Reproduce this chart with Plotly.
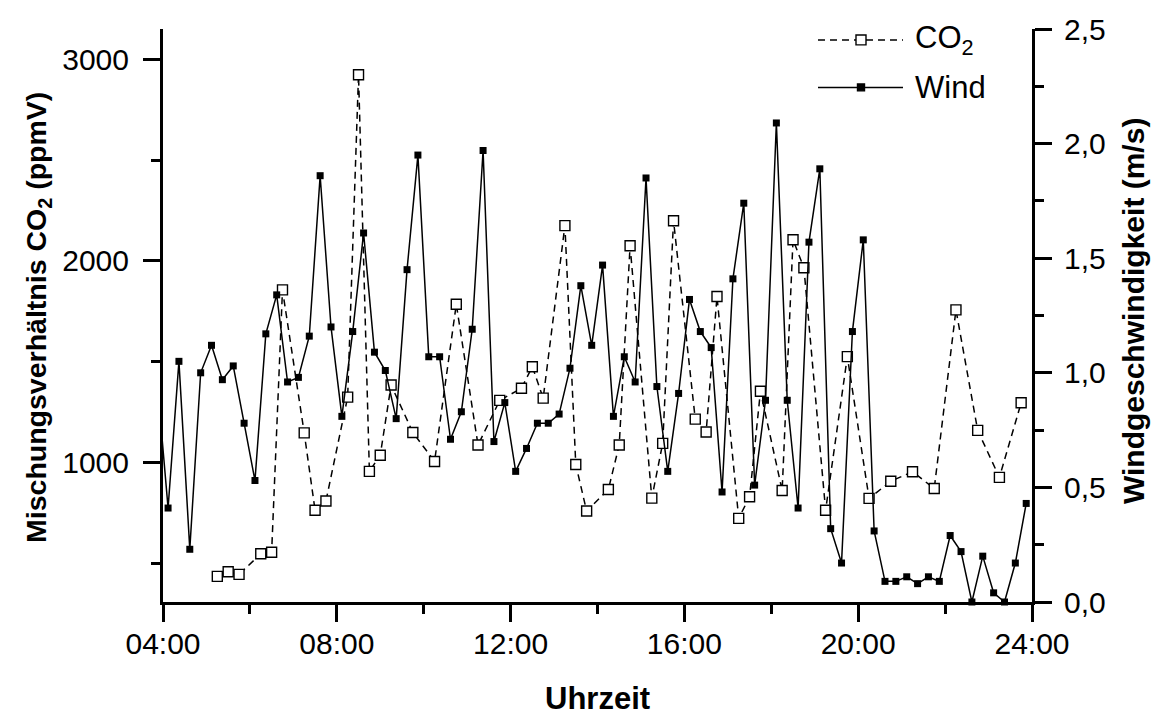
import plotly.graph_objects as go

# ---------------- data ----------------
wind_time = ["03:52",
             "04:07", "04:22", "04:37", "04:52", "05:07", "05:22", "05:37", "05:52",
             "06:07", "06:22", "06:37", "06:52", "07:07", "07:22", "07:37", "07:52",
             "08:07", "08:22", "08:37", "08:52", "09:07", "09:22", "09:37", "09:52",
             "10:07", "10:22", "10:37", "10:52", "11:07", "11:22", "11:37", "11:52",
             "12:07", "12:22", "12:37", "12:52", "13:07", "13:22", "13:37", "13:52",
             "14:07", "14:22", "14:37", "14:52", "15:07", "15:22", "15:37", "15:52",
             "16:07", "16:22", "16:37", "16:52", "17:07", "17:22", "17:37", "17:52",
             "18:07", "18:22", "18:37", "18:52", "19:07", "19:22", "19:37", "19:52",
             "20:07", "20:22", "20:37", "20:52", "21:07", "21:22", "21:37", "21:52",
             "22:07", "22:22", "22:37", "22:52", "23:07", "23:22", "23:37", "23:52"]
wind_speed = [0.96, 0.41, 1.05, 0.23, 1.00, 1.12, 0.97, 1.03, 0.78, 0.53,
              1.17, 1.34, 0.96, 0.98, 1.16, 1.86, 1.20, 0.81, 1.18, 1.61,
              1.09, 1.01, 0.80, 1.45, 1.95, 1.07, 1.07, 0.71, 0.83, 1.19,
              1.97, 0.70, 0.87, 0.57, 0.67, 0.78, 0.78, 0.82, 1.02, 1.38,
              1.12, 1.47, 0.81, 1.07, 0.96, 1.85, 0.94, 0.57, 0.91, 1.32,
              1.18, 1.11, 0.48, 1.41, 1.74, 0.51, 0.88, 2.09, 0.88, 0.41,
              1.57, 1.89, 0.32, 0.17, 1.18, 1.58, 0.31, 0.09, 0.09, 0.11,
              0.08, 0.11, 0.09, 0.29, 0.22, 0.00, 0.20, 0.04, 0.00, 0.17, 0.43]

co2_time = ["05:15", "05:30", "05:45", "06:15", "06:30", "06:45", "07:15", "07:30",
            "07:45", "08:15", "08:30", "08:45", "09:00", "09:15", "09:45", "10:15",
            "10:45", "11:15", "11:45", "12:15", "12:30", "12:45", "13:15", "13:30",
            "13:45", "14:15", "14:30", "14:45", "15:15", "15:30", "15:45", "16:15",
            "16:30", "16:45", "17:15", "17:30", "17:45", "18:15", "18:30", "18:45",
            "19:15", "19:45", "20:15", "20:45", "21:15", "21:45", "22:15", "22:45",
            "23:15", "23:45"]
co2_ppm = [435, 458, 445, 547, 555, 1856, 1147, 763, 809, 1324,
           2923, 956, 1036, 1384, 1149, 1005, 1785, 1087, 1308, 1368,
           1475, 1319, 2175, 990, 759, 866, 1087, 2075, 823, 1095,
           2199, 1215, 1151, 1823, 723, 830, 1353, 861, 2105, 1966,
           763, 1525, 822, 907, 954, 871, 1757, 1159, 926, 1296]

x_tickvals = [4, 8, 12, 16, 20, 24]
x_ticktext = ["04:00", "08:00", "12:00", "16:00", "20:00", "24:00"]
x_minor = [6, 10, 14, 18, 22]
y1_tickvals = [1000, 2000, 3000]
y1_minor = [500, 1500, 2500]
y2_tickvals = [0, 0.5, 1.0, 1.5, 2.0, 2.5]
y2_minor = [0.25, 0.75, 1.25, 1.75, 2.25]


def hours(t):
    h, m = t.split(":")
    return int(h) + int(m) / 60.0


# ---------------- layout helpers (pixel -> paper) ----------------
W, H = 1157, 717
L, R, T, B = 163, 125, 23, 115
PW, PH = W - L - R, H - T - B


def px(x):
    return (x - L) / PW


def py(y):
    return (H - B - y) / PH


FONT = "Liberation Sans, Arial, sans-serif"

fig = go.Figure()
fig.add_trace(go.Scatter(
    x=[hours(t) for t in co2_time], y=co2_ppm, name="CO<sub>2</sub>",
    mode="lines+markers", yaxis="y", cliponaxis=False,
    line=dict(color="black", width=1.5, dash="7px,5px"),
    marker=dict(symbol="square", size=10, color="white",
                line=dict(color="black", width=1.4)),
))
fig.add_trace(go.Scatter(
    x=[hours(t) for t in wind_time], y=wind_speed, name="Wind",
    mode="lines+markers", yaxis="y2", cliponaxis=False,
    line=dict(color="black", width=1.5),
    marker=dict(symbol="square", size=7, color="black",
                line=dict(color="black", width=0)),
))

axis_common = dict(showline=True, linewidth=3, linecolor="black",
                   ticks="outside", ticklen=17, tickwidth=3, tickcolor="black",
                   showgrid=False, zeroline=False, layer="below traces",
                   tickfont=dict(family=FONT, size=30, color="black"))

fig.update_layout(
    width=W, height=H,
    margin=dict(l=L, r=R, t=T, b=B, pad=0),
    plot_bgcolor="white", paper_bgcolor="white",
    showlegend=False,
    separators=",.",
    font=dict(family=FONT, color="black", size=30),
    xaxis=dict(range=[4, 24], tickvals=x_tickvals, ticktext=x_ticktext,
               ticklabelstandoff=-4,
               minor=dict(tickvals=x_minor, ticks="outside", ticklen=9,
                          tickwidth=3, tickcolor="black"),
               **axis_common),
    yaxis=dict(range=[308, 3150], tickvals=y1_tickvals, ticklabelstandoff=8,
               minor=dict(tickvals=y1_minor, ticks="outside", ticklen=9,
                          tickwidth=3, tickcolor="black"),
               **axis_common),
    yaxis2=dict(range=[0, 2.5], tickvals=y2_tickvals, tickformat=".1f",
                overlaying="y", side="right", ticklabelstandoff=6,
                minor=dict(tickvals=y2_minor, ticks="outside", ticklen=9,
                           tickwidth=3, tickcolor="black"),
                **axis_common),
)

# axis titles
fig.add_annotation(text="<b>Mischungsverhältnis CO<sub>2</sub> (ppmV)</b>",
                   xref="paper", yref="paper", x=px(38), y=py(315),
                   xanchor="center", yanchor="middle", textangle=-90,
                   showarrow=False, font=dict(family=FONT, size=28.5, color="black"))
fig.add_annotation(text="<b>Windgeschwindigkeit (m/s)</b>",
                   xref="paper", yref="paper", x=px(1133), y=py(308),
                   xanchor="center", yanchor="middle", textangle=-90,
                   showarrow=False, font=dict(family=FONT, size=30, color="black"))
fig.add_annotation(text="<b>Uhrzeit</b>",
                   xref="paper", yref="paper", x=px(597), y=py(700),
                   xanchor="center", yanchor="middle",
                   showarrow=False, font=dict(family=FONT, size=31, color="black"))

# legend drawn by hand (sample lines + symbols + labels)
leg = [("CO<sub>2</sub>", 34, "7px,5px", "white", 10),
       ("Wind", 82, "solid", "black", 7)]
for label, yy, dash, fill, s in leg:
    fig.add_shape(type="line", xref="paper", yref="paper",
                  x0=px(818), x1=px(903), y0=py(yy), y1=py(yy),
                  line=dict(color="black", width=1.5, dash=dash))
    fig.add_shape(type="rect", xref="paper", yref="paper",
                  x0=px(861 - s / 2), x1=px(861 + s / 2),
                  y0=py(yy - s / 2), y1=py(yy + s / 2),
                  fillcolor=fill, line=dict(color="black", width=1.4))
    fig.add_annotation(text=label, xref="paper", yref="paper",
                       x=px(913), y=py(yy), xanchor="left", yanchor="middle",
                       showarrow=False,
                       font=dict(family=FONT, size=31, color="black"))

fig.write_html("out.html")
